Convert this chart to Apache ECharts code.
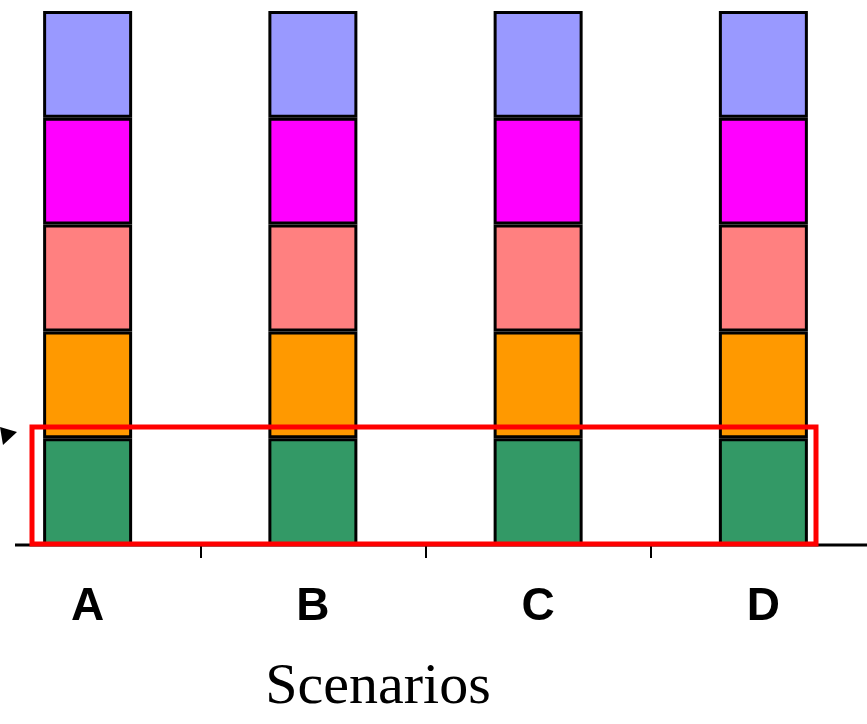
<!DOCTYPE html>
<html>
<head>
<meta charset="utf-8">
<script src="https://cdn.jsdelivr.net/npm/echarts@6/dist/echarts.min.js"></script>
<style>
html, body { margin: 0; padding: 0; background: #fff; }
#main { width: 867px; height: 724px; }
</style>
</head>
<body>
<div id="main"></div>
<script>
// categories and segment values (bottom to top)
var scenarios = ['A', 'B', 'C', 'D'];
var seg1 = [1, 1, 1, 1];
var seg2 = [1, 1, 1, 1];
var seg3 = [1, 1, 1, 1];
var seg4 = [1, 1, 1, 1];
var seg5 = [1, 1, 1, 1];
var segColors = ['#339966', '#FF9900', '#FF8080', '#FF00FF', '#9999FF'];

var chart = echarts.init(document.getElementById('main'));

function seg(name, data, color) {
	return {
		name: name,
		type: 'bar',
		stack: 'total',
		barWidth: 89,
		data: data,
		itemStyle: {
			color: color,
			borderColor: '#000',
			borderWidth: 3
		}
	};
}

var option = {
	animation: false,
	grid: {
		left: -25,
		right: -9,
		top: 11,
		bottom: 179,
		outerBoundsMode: 'none',
		containLabel: false
	},
	xAxis: {
		type: 'category',
		data: scenarios,
		axisLine: { show: false },
		axisTick: {
			show: true,
			length: 13,
			lineStyle: { color: '#000', width: 2 }
		},
		axisLabel: {
			margin: 39,
			fontSize: 46,
			lineHeight: 46,
			fontWeight: 'bold',
			fontFamily: 'Liberation Sans, Arial, sans-serif',
			color: '#000'
		}
	},
	yAxis: {
		type: 'value',
		min: 0,
		max: 5,
		show: false
	},
	series: [
		seg('s1', seg1, segColors[0]),
		seg('s2', seg2, segColors[1]),
		seg('s3', seg3, segColors[2]),
		seg('s4', seg4, segColors[3]),
		seg('s5', seg5, segColors[4])
	],
	graphic: [
		{
			// x axis line
			type: 'line',
			z: 50,
			shape: { x1: 15, y1: 545, x2: 867, y2: 545 },
			style: { stroke: '#000', lineWidth: 3 }
		},
		{
			// highlight box
			type: 'rect',
			z: 100,
			shape: { x: 32, y: 427, width: 784, height: 117 },
			style: { fill: null, stroke: '#FF0000', lineWidth: 5 }
		},
		{
			// arrow head
			type: 'polygon',
			z: 100,
			shape: { points: [[0, 427], [17, 432], [3, 445]] },
			style: { fill: '#000' }
		},
		{
			type: 'text',
			z: 100,
			style: {
				text: 'Scenarios',
				x: 378,
				y: 688,
				align: 'center',
				verticalAlign: 'middle',
				fontSize: 58,
				fontFamily: 'Liberation Serif, Times New Roman, serif',
				fill: '#000'
			}
		}
	]
};

chart.setOption(option);
</script>
</body>
</html>
